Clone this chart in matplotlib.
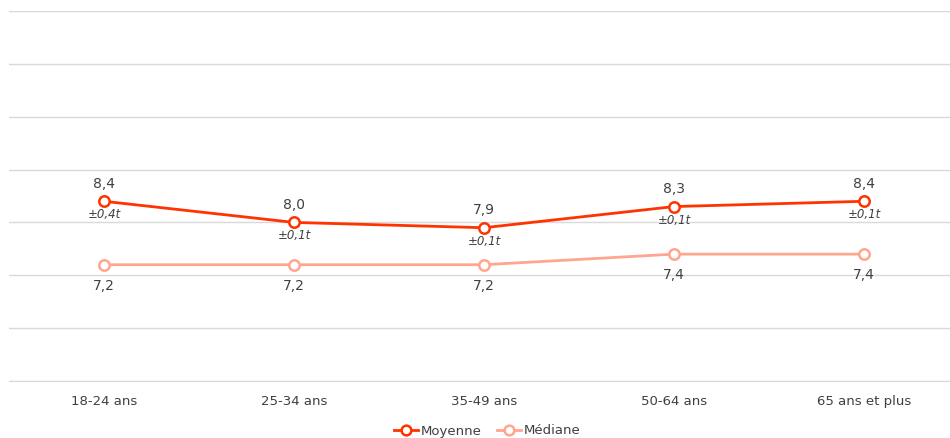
import matplotlib
matplotlib.use("Agg")
import matplotlib.pyplot as plt
from matplotlib.lines import Line2D

categories = ["18-24 ans", "25-34 ans", "35-49 ans", "50-64 ans", "65 ans et plus"]
moyenne = [8.4, 8.0, 7.9, 8.3, 8.4]
mediane = [7.2, 7.2, 7.2, 7.4, 7.4]
marges = ["±0,4t", "±0,1t", "±0,1t", "±0,1t", "±0,1t"]

RED = "#ff3300"
SALMON = "#ffa590"
TEXT = "#404040"
GRID = "#d9d9d9"

plt.rcParams["font.family"] = ["DejaVu Sans"]

fig = plt.figure(figsize=(9.5, 4.38), dpi=100)
W, H = 950, 438
ax = fig.add_axes([9 / W, (H - 381) / H, 941 / W, 370 / H])

x = list(range(len(categories)))

ax.plot(x, mediane, color=SALMON, lw=2, marker="o", ms=7.5,
        mfc="white", mec=SALMON, mew=1.8, zorder=3)
ax.plot(x, moyenne, color=RED, lw=2, marker="o", ms=7.5,
        mfc="white", mec=RED, mew=1.8, zorder=4)

def fmt(v):
    return f"{v:.1f}".replace(".", ",")

for xi, v, m in zip(x, moyenne, marges):
    ax.annotate(fmt(v), (xi, v), xytext=(0, 7.5), textcoords="offset points",
                ha="center", va="bottom", fontsize=10, color=TEXT)
    ax.annotate(m, (xi, v), xytext=(0, -5), textcoords="offset points",
                ha="center", va="top", fontsize=8.5, color=TEXT, style="italic")

for xi, v in zip(x, mediane):
    ax.annotate(fmt(v), (xi, v), xytext=(0, -10), textcoords="offset points",
                ha="center", va="top", fontsize=10, color=TEXT)

ax.set_xlim(-0.5, -0.5 + 941 / 190)
ax.set_ylim(5, 12)
ax.set_yticks(range(5, 13))
ax.yaxis.grid(True, color=GRID, lw=1)
ax.set_axisbelow(True)
ax.tick_params(axis="y", left=False, labelleft=False)
ax.set_xticks(x)
ax.set_xticklabels(categories, fontsize=9.5, color=TEXT)
ax.tick_params(axis="x", length=0, pad=10)
for s in ["top", "right", "left"]:
    ax.spines[s].set_visible(False)
ax.spines["bottom"].set_color(GRID)

handles = [
    Line2D([], [], color=RED, lw=2, marker="o", ms=7, mfc="white", mec=RED, mew=1.8),
    Line2D([], [], color=SALMON, lw=2, marker="o", ms=7, mfc="white", mec=SALMON, mew=1.8),
]
fig.legend(handles, ["Moyenne", "Médiane"], loc="center", bbox_to_anchor=(487 / W, 1 - 431 / H),
           ncol=2, frameon=False, fontsize=9.5, handlelength=1.8, handletextpad=0.2,
           columnspacing=1.2, labelcolor=TEXT)

fig.savefig("out.png", dpi=100, facecolor="white")
